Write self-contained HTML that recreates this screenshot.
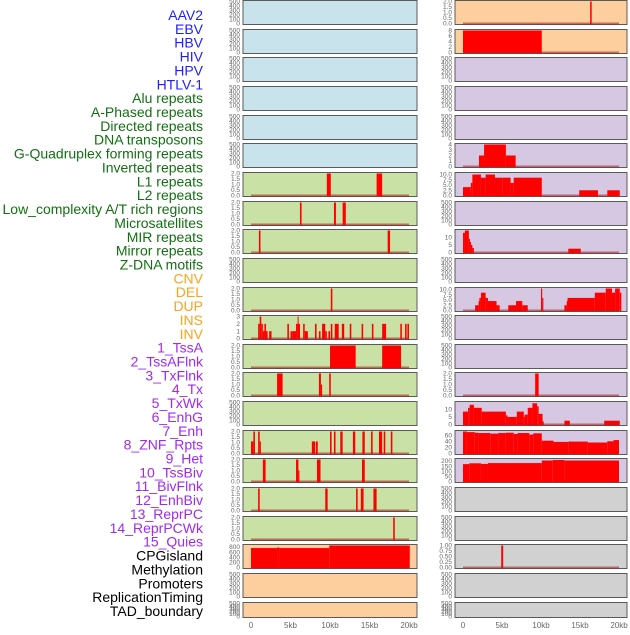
<!DOCTYPE html>
<html><head><meta charset="utf-8"><style>
html,body{margin:0;padding:0;background:#fff;}
body{width:630px;height:630px;overflow:hidden;font-family:"Liberation Sans",sans-serif;}
svg text{font-family:"Liberation Sans",sans-serif;}
</style></head><body>
<svg id="chart" width="630" height="630" xmlns="http://www.w3.org/2000/svg"></svg>
<script>
const labels=["AAV2","EBV","HBV","HIV","HPV","HTLV-1","Alu repeats","A-Phased repeats","Directed repeats","DNA transposons","G-Quadruplex forming repeats","Inverted repeats","L1 repeats","L2 repeats","Low_complexity A/T rich regions","Microsatellites","MIR repeats","Mirror repeats","Z-DNA motifs","CNV","DEL","DUP","INS","INV","1_TssA","2_TssAFlnk","3_TxFlnk","4_Tx","5_TxWk","6_EnhG","7_Enh","8_ZNF_Rpts","9_Het","10_TssBiv","11_BivFlnk","12_EnhBiv","13_ReprPC","14_ReprPCWk","15_Quies","CPGisland","Methylation","Promoters","ReplicationTiming","TAD_boundary"];
const labelGroups=[0,0,0,0,0,0,1,1,1,1,1,1,1,1,1,1,1,1,1,2,2,2,2,2,3,3,3,3,3,3,3,3,3,3,3,3,3,3,3,4,4,4,4,4];
const groupColors=["#1f1fff","#127012","#ffa21a","#a02af0","#000000"];
const leftBg=["b","b","b","b","b","b","g","g","g","g","g","g","g","g","g","g","g","g","g","o","o","o"];
const rightBg=["o","o","p","p","p","p","p","p","p","p","p","p","p","p","p","p","p","y","y","y","y","y"];
const bgColors={b:"#c8e3ec",g:"#c9e1a5",o:"#fecf9e",p:"#d6c7e2",y:"#d1d1d1"};
const leftMax=[500,500,500,500,500,500,2,2,2,500,2,3,2,2,500,2,2,2,2,860,500,500];
const rightMax=[2,8,500,500,500,4,10.5,500,14.5,500,10.5,500,500,2,14.5,72,215,500,500,1,500,500];
const leftTicks=[[0,100,200,300,400,500],[0,0.5,1,1.5,2],[0,1,2,3],[0,200,400,600,800]];
const leftBars=[[],[],[],[],[],[],
[[9.6,10.1,2],[15.9,16.6,2]],
[[6.2,6.4,2],[10.5,10.75,2],[11.6,12.0,2]],
[[1.0,1.2,2],[17.3,17.6,2]],
[],
[[10.1,10.3,2]],
[[0.9,1.1,2],[1.1,1.3,3],[1.3,1.5,2],[1.5,1.7,1],[1.7,1.9,2],[1.9,2.1,1],[2.3,2.6,1],[4.6,4.8,2],[5.0,5.3,1],[5.3,5.7,1],[5.7,5.9,2],[5.9,6.0,3],[6.0,6.2,2],[6.6,6.8,2],[6.8,7.2,1],[8.1,8.3,2],[8.6,8.8,1],[9.0,9.4,2],[9.4,9.6,1],[9.8,10.0,1],[10.1,10.3,2],[10.6,11.1,2],[11.5,11.8,2],[12.5,12.7,2],[14.0,14.2,2],[15.3,15.5,2],[16.6,17.1,2],[18.9,19.1,2],[19.5,19.7,2],[19.8,20.0,2]],
[[10.0,13.25,2],[16.6,19.0,2]],
[[3.3,4.0,2],[8.6,8.85,2],[8.85,9.0,1],[9.9,10.1,2]],
[],
[[0,0.1,1.1],[0.1,0.3,1.1],[0.3,0.5,2],[0.9,1.1,2],[1.1,1.25,1.1],[7.7,8.1,1.1],[8.2,8.45,1.1],[10.0,10.2,2],[10.5,10.7,2],[11.3,11.6,2],[12.9,13.2,2],[14.1,14.4,2],[15.2,15.4,2],[16.2,16.6,2],[16.8,17.0,2],[17.7,17.9,2]],
[[1.5,1.85,2],[5.7,6.0,2],[6.0,6.1,1],[8.35,8.8,2],[14.05,14.4,2]],
[[0.9,1.1,2],[9.4,9.7,2],[13.3,13.5,2],[13.9,14.25,2],[15.5,15.9,2]],
[[18.0,18.2,2]],
[[0,3.3,760],[3.3,3.6,780],[3.6,9.9,760],[9.9,20.1,860]],
[],[]];
const rightBars=[
[[16.3,16.5,2]],
[[0,10.1,8]],
[],[],[],
[[2.05,2.7,2],[2.7,5.5,4],[5.5,6.75,2]],
[[0,1.0,4],[1.0,1.2,6],[1.2,2.3,10],[2.3,2.9,8.5],[2.9,4.1,10],[4.1,5.1,8.5],[5.1,6.1,8.5],[6.1,6.5,6],[6.5,10.1,8.5],[14.9,17.3,2.5],[18.5,20.1,2.5]],
[],
[[0,0.25,13],[0.25,0.75,14.5],[0.75,0.9,9],[0.9,1.0,7],[1.0,1.2,5],[1.2,1.4,3],[13.5,15.1,2.5]],
[],
[[1.55,2.0,2.5],[2.0,2.1,4.5],[2.1,2.3,6],[2.3,2.9,8.5],[2.9,3.2,6],[3.2,4.3,4.5],[4.3,4.7,2.5],[5.8,6.8,2.5],[6.8,7.6,4.5],[7.6,8.3,2.5],[10.0,10.15,10.5],[10.15,10.3,6],[13.0,13.3,2.5],[13.3,13.4,4.5],[13.4,16.9,6],[16.9,18.3,8.5],[18.3,19.1,10.5],[19.1,19.5,8.5],[19.5,20.1,10.5],[20.1,20.3,8.5]],
[],[],
[[9.25,9.7,2]],
[[0,0.65,8.5],[0.65,0.85,11],[0.85,1.4,13],[1.4,2.4,11],[2.4,5.5,8.5],[5.5,5.7,6],[5.7,6.9,5],[6.9,7.8,8.5],[7.8,7.9,5],[7.9,8.3,6.5],[8.3,8.9,11],[8.9,9.5,14],[9.5,9.7,12],[9.7,10.2,7],[10.2,10.35,2],[13.0,13.7,2.5],[18.1,20.1,2.5]],
[[0,0.5,72],[0.5,1.5,70],[1.5,2,68],[2,3.5,67],[3.5,4.5,65],[4.5,5.5,67],[5.5,6.5,68],[6.5,7,64],[7,8.5,67],[8.5,9,62],[9,10.1,66],[10.1,11.6,42],[11.6,13.5,38],[13.5,16,39],[16,18.5,36],[18.5,19.3,40],[19.3,20,44]],
[[0,0.8,170],[0.8,2.3,178],[2.3,3.2,172],[3.2,10.1,180],[10.1,11.5,205],[11.5,13,210],[13,20,205]],
[],[],
[[4.9,5.15,1]],
[],[]];
const rightTickSets=[[0,0.5,1,1.5,2],[0,2,4,6,8],null,null,null,[0,1,2,3,4],[0,2.5,5,7.5,10],null,[0,5,10],null,[0,2.5,5,7.5,10],null,null,[0,0.5,1,1.5,2],[0,5,10],[0,20,40,60],[0,50,100,150,200],null,null,[0,0.25,0.5,0.75,1],null,null];
const xTicks=[0,5,10,15,20];
const xTickLabels=["0","5kb","10kb","15kb","20kb"];

const NS="http://www.w3.org/2000/svg";
const svg=document.getElementById("chart");
function mk(t,a,p){const e=document.createElementNS(NS,t);for(const k in a)e.setAttribute(k,a[k]);(p||svg).appendChild(e);return e;}
const cols=[{x0:243,x1:417,z:251,s:7.9},{x0:455,x1:627,z:463,s:7.8}];
function rowTop(i){return Math.round(i*28.65);}
function rowH(i){return i===21?16:25;}
function fmt(v,ticks){const dec=ticks.some(t=>t%1!==0)?(ticks.some(t=>(t*10)%1!==0)?2:1):0;return v.toFixed(dec);}

labels.forEach((l,i)=>{
  const t=mk("text",{x:203,y:15+i*13.86+5,"text-anchor":"end","font-size":"14",fill:groupColors[labelGroups[i]]});
  t.textContent=l;
  
  
});

for(let c=0;c<2;c++){
  const col=cols[c];
  const bars=c===0?leftBars:rightBars;
  const maxs=c===0?leftMax:rightMax;
  const bgs=c===0?leftBg:rightBg;
  for(let i=0;i<22;i++){
    const top=rowTop(i),h=rowH(i);
    const g=mk("g",{});
    
    
    mk("rect",{x:col.x0,y:top+0.5,width:col.x1-col.x0,height:h-1,fill:bgColors[bgs[i]],stroke:"#5a5a5a","stroke-width":"1"},g);
    const yb=top+h-1.5, yt=top+1.5, max=maxs[i];
    const ys=v=>yb-(v/max)*(yb-yt);
    const xs=k=>Math.max(col.x0+1,Math.min(col.x1-1,col.z+k*col.s));
    let ticks;
    if(c===0){ticks=max===500?leftTicks[0]:max===2?leftTicks[1]:max===3?leftTicks[2]:leftTicks[3];}
    else{ticks=rightTickSets[i]||leftTicks[0];}
    ticks.forEach(tv=>{
      const tt=mk("text",{x:col.x0-3,y:ys(tv)+2.2,"text-anchor":"end","font-size":"6.5",fill:"#666"},g);
      tt.textContent=fmt(tv,ticks);
      
      
    });
    if(bars[i].length){
      mk("line",{x1:xs(0),x2:xs(20),y1:yb,y2:yb,stroke:"rgba(170,20,20,0.55)","stroke-width":"2"},g);
    }
    bars[i].forEach(b=>{
      const x=xs(b[0]),x2=xs(b[1]);
      const r=mk("rect",{x:x,y:ys(b[2]),width:Math.max(1,x2-x),height:yb-ys(b[2])+0.5,fill:"#ff0000"},g);
      
      
    });
  }
  xTicks.forEach((k,j)=>{
    const t=mk("text",{x:col.z+k*col.s,y:628,"text-anchor":"middle","font-size":"8",fill:"#666"});
    t.textContent=xTickLabels[j];
    
    
  });
}
</script>
</body></html>
